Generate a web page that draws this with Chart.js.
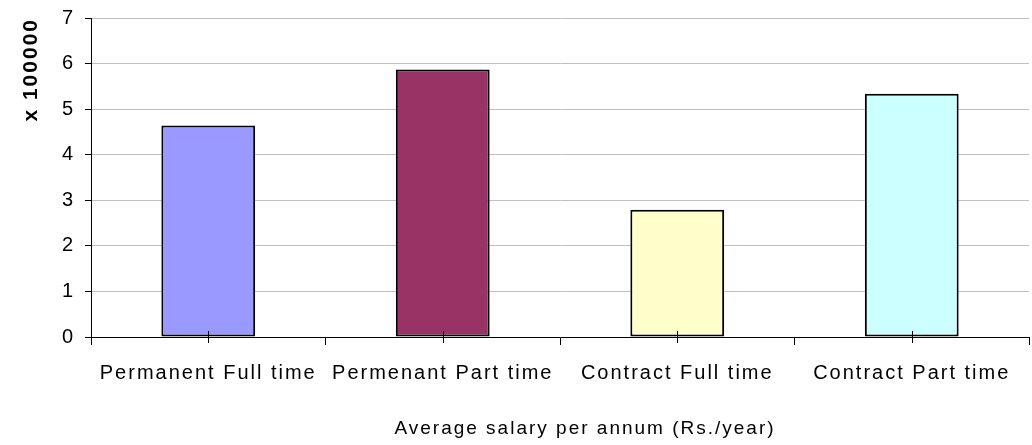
<!DOCTYPE html>
<html>
<head>
<meta charset="utf-8">
<script src="https://cdn.jsdelivr.net/npm/chart.js@4.4.1/dist/chart.umd.min.js"></script>
<style>
  html, body { margin: 0; padding: 0; background: #fff; }
  #wrap { width: 1032px; height: 445px; }
</style>
</head>
<body>
<div id="wrap"><canvas id="c" width="1032" height="445"></canvas></div>
<script>
// Average salary per annum by employment type, in units of 100000 Rs./year
const categories = ['Permanent Full time', 'Permenant Part time', 'Contract Full time', 'Contract Part time'];
const salaries = [4.64, 5.87, 2.79, 5.34];
const barColors = ['#9999FF', '#993366', '#FFFFCC', '#CCFFFF'];
const yTicks = [0, 1, 2, 3, 4, 5, 6, 7];
const xTitle = 'Average salary per annum (Rs./year)';

const FONT = '"Liberation Sans", Arial, sans-serif';

// Wider letter spacing on all canvas text
const spacing = {
  id: 'spacing',
  beforeUpdate(chart) { chart.ctx.letterSpacing = '2px'; },
  beforeDraw(chart) { chart.ctx.letterSpacing = '2px'; }
};

// Short marks crossing the category axis at each bar centre,
// plus the category-axis caption, set a little right of centre
const axisExtras = {
  id: 'axisExtras',
  afterDatasetsDraw(chart) {
    const x = chart.scales.x;
    const ctx = chart.ctx;
    ctx.save();
    ctx.strokeStyle = '#000';
    ctx.lineWidth = 1;
    categories.forEach((c, i) => {
      const px = Math.round(x.getPixelForValue(i)) + 0.5;
      ctx.beginPath();
      ctx.moveTo(px, x.top - 6);
      ctx.lineTo(px, x.top + 6);
      ctx.stroke();
    });
    ctx.restore();
  },
  afterDraw(chart) {
    const x = chart.scales.x;
    const ctx = chart.ctx;
    ctx.save();
    ctx.letterSpacing = '2px';
    ctx.fillStyle = '#000';
    ctx.font = '19px ' + FONT;
    ctx.textAlign = 'center';
    ctx.textBaseline = 'middle';
    ctx.fillText(xTitle, (x.left + x.right) / 2 + 25, x.bottom - 16);
    ctx.restore();
  }
};

new Chart(document.getElementById('c'), {
  type: 'bar',
  data: {
    labels: categories,
    datasets: [{
      data: salaries,
      backgroundColor: barColors,
      borderColor: '#000',
      borderWidth: 2,
      borderSkipped: false,
      categoryPercentage: 1.0,
      barPercentage: 0.4
    }]
  },
  options: {
    responsive: false,
    animation: false,
    devicePixelRatio: 1,
    layout: { padding: { top: 18, right: 3, left: 0, bottom: 0 } },
    plugins: { legend: { display: false }, tooltip: { enabled: false } },
    scales: {
      x: {
        offset: true,
        grid: {
          display: true,
          offset: true,
          drawOnChartArea: false,
          color: '#000',
          tickLength: 8
        },
        border: { color: '#000', width: 1 },
        ticks: {
          color: '#000',
          font: { family: FONT, size: 20 },
          padding: 16,
          maxRotation: 0,
          autoSkip: false
        },
        afterFit(scale) { scale.height = 445 - 337; }
      },
      y: {
        min: 0,
        max: 7,
        afterBuildTicks(scale) { scale.ticks = yTicks.map(v => ({ value: v })); },
        grid: {
          color: '#c0c0c0',
          lineWidth: 1,
          tickColor: '#000',
          tickLength: 6
        },
        border: { color: '#000', width: 1 },
        ticks: {
          color: '#000',
          font: { family: FONT, size: 20 },
          padding: 10
        },
        title: {
          display: true,
          text: 'x 100000',
          align: 'end',
          color: '#000',
          font: { family: FONT, size: 21, weight: 'bold' },
          padding: { top: 19, bottom: 0 }
        },
        afterFit(scale) {
          scale.width = 91;
          scale.paddingTop = 0;
          scale.paddingBottom = 0;
        }
      }
    }
  },
  plugins: [spacing, axisExtras]
});
</script>
</body>
</html>
